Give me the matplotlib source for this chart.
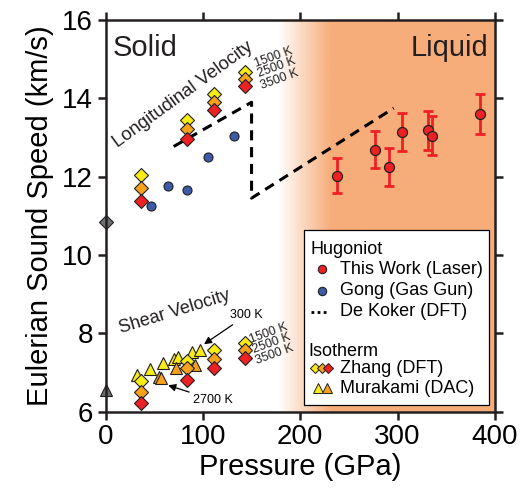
import matplotlib.pyplot as plt
import numpy as np
from matplotlib.colors import LinearSegmentedColormap
from matplotlib.patches import Rectangle

plt.rcParams['font.family'] = ['Liberation Sans', 'DejaVu Sans']

# Hugoniot: laser-driven shock (this work)
laser_p = [237.5, 277.0, 290.7, 304.4, 330.7, 335.8, 384.9]
laser_v = [12.02, 12.69, 12.24, 13.14, 13.18, 13.05, 13.60]
laser_err = [0.45, 0.48, 0.48, 0.49, 0.50, 0.50, 0.51]

# Hugoniot: gas gun (Gong)
gong_p = [46.6, 64.0, 83.3, 104.9, 131.6]
gong_v = [11.24, 11.75, 11.66, 12.49, 13.04]

# Hugoniot: De Koker DFT
dekoker_p = [70.0, 150.0, 150.0, 296.0]
dekoker_v = [12.77, 13.90, 11.45, 13.75]

# Isotherms: Zhang DFT, longitudinal and shear
zhang_p = [36.0, 84.0, 111.0, 143.0]
zhang_vp_1500 = [12.03, 13.44, 14.10, 14.67]
zhang_vp_2500 = [11.71, 13.21, 13.91, 14.50]
zhang_vp_3500 = [11.38, 12.97, 13.69, 14.31]
zhang_vs_1500 = [6.79, 7.30, 7.56, 7.75]
zhang_vs_2500 = [6.50, 7.11, 7.35, 7.58]
zhang_vs_3500 = [6.23, 6.81, 7.11, 7.37]

# Isotherms: Murakami DAC shear velocity
mura_p_300 = [32.6, 45.2, 59.3, 70.2, 74.3, 89.2, 96.7]
mura_v_300 = [6.94, 7.09, 7.24, 7.33, 7.39, 7.52, 7.58]
mura_p_2700 = [54.8, 57.3, 72.7, 91.8]
mura_v_2700 = [6.88, 6.85, 7.11, 7.20]

# ambient pressure values
ambient_vp = 10.85
ambient_vs = 6.55

temp_labels = ['1500 K', '2500 K', '3500 K']
vp_label_pos = [(172.5, 15.04), (175.8, 14.79), (178.5, 14.49)]
vs_label_pos = [(167.5, 7.99), (170.8, 7.74), (173.5, 7.45)]

xticks = [0, 100, 200, 300, 400]
yticks = [6, 8, 10, 12, 14, 16]

YELLOW = '#f7ec13'
ORANGE = '#f7a21b'
RED = '#ed2024'
BLUE = '#3b5ba8'
GRAY = '#6d6e71'
LIQUID = '#f7ad7a'
INK = '#231f20'

fig = plt.figure(figsize=(5.21, 4.92), dpi=100)
ax = fig.add_axes([0.2025, 0.1636, 0.7476, 0.7957])

# liquid region, fading in from white
melt_start, melt_full = 177, 231
xs = np.linspace(melt_start, 400, 600)
shade = np.clip((xs - melt_start) / (melt_full - melt_start), 0, 1)[None, :]
cmap = LinearSegmentedColormap.from_list('melt', ['white', LIQUID])
ax.imshow(shade, cmap=cmap, vmin=0, vmax=1, extent=(melt_start, 400, 6, 16),
          aspect='auto', zorder=0, interpolation='bilinear')

ax.plot(dekoker_p, dekoker_v, color='k', lw=2.2, ls=(0, (3.3, 2.2)), zorder=2)

ax.plot(gong_p, gong_v, 'o', ms=6.5, mfc=BLUE, mec=INK, mew=0.8, zorder=3)

ax.errorbar(laser_p, laser_v, yerr=laser_err, fmt='none', ecolor=RED,
            elinewidth=2, capsize=3.5, capthick=2, zorder=3)
ax.plot(laser_p, laser_v, 'o', ms=7.2, mfc=RED, mec=INK, mew=0.9, zorder=4)

# Murakami triangles under the Zhang diamonds
ms_tri = 8.3
ax.plot(mura_p_300, mura_v_300, '^', ms=ms_tri, mfc=YELLOW, mec=INK, mew=0.8, zorder=3)
ax.plot(mura_p_2700, mura_v_2700, '^', ms=ms_tri, mfc=ORANGE, mec=INK, mew=0.8, zorder=3)

ms_dia = 7
for vp, vs, c in [(zhang_vp_1500, zhang_vs_1500, YELLOW),
                  (zhang_vp_2500, zhang_vs_2500, ORANGE),
                  (zhang_vp_3500, zhang_vs_3500, RED)]:
    ax.plot(zhang_p, vp, 'D', ms=ms_dia, mfc=c, mec=INK, mew=0.8, zorder=4)
    ax.plot(zhang_p, vs, 'D', ms=ms_dia, mfc=c, mec=INK, mew=0.8, zorder=4)

ax.plot([0], [ambient_vp], 'D', ms=ms_dia, mfc=GRAY, mec=INK, mew=0.8,
        clip_on=False, zorder=6)
ax.plot([0], [ambient_vs], '^', ms=ms_tri, mfc=GRAY, mec=INK, mew=0.8,
        clip_on=False, zorder=6)

# labels on the plot
ax.text(0.018, 0.965, 'Solid', transform=ax.transAxes, fontsize=21,
        ha='left', va='top', color=INK)
ax.text(0.982, 0.965, 'Liquid', transform=ax.transAxes, fontsize=21,
        ha='right', va='top', color=INK)
ax.text(80, 14.10, 'Longitudinal Velocity', fontsize=13.3, rotation=36,
        ha='center', va='center', rotation_mode='anchor', color=INK)
ax.text(71, 8.53, 'Shear Velocity', fontsize=13, rotation=17,
        ha='center', va='center', rotation_mode='anchor', color=INK)

for (x, y), t in zip(vp_label_pos, temp_labels):
    ax.text(x, y, t, fontsize=9, rotation=20,
            ha='center', va='center', rotation_mode='anchor', color=INK)
for (x, y), t in zip(vs_label_pos, temp_labels):
    ax.text(x, y, t, fontsize=9, rotation=20,
            ha='center', va='center', rotation_mode='anchor', color=INK)

arrow = dict(arrowstyle='-|>', color='k', lw=0.9, mutation_scale=11,
             shrinkA=1, shrinkB=1)
ax.annotate('300 K', xy=(100, 7.70), xytext=(145, 8.46), fontsize=9,
            ha='center', va='center', arrowprops=arrow)
ax.annotate('2700 K', xy=(63, 6.68), xytext=(110.5, 6.30), fontsize=9,
            ha='center', va='center', arrowprops=arrow)

# legend box
tr = ax.transAxes
ax.add_patch(Rectangle((0.5096, 0.0166), 0.475, 0.447, transform=tr,
                       facecolor='white', edgecolor='k', lw=0.9, zorder=7))
fs = 13
ax.text(0.526, 0.415, 'Hugoniot', transform=tr, fontsize=fs, va='center', zorder=8)
ax.plot([0.555], [0.364], 'o', transform=tr, ms=6, mfc=RED, mec=INK, mew=0.8, zorder=8)
ax.text(0.603, 0.364, 'This Work (Laser)', transform=tr, fontsize=fs, va='center', zorder=8)
ax.plot([0.555], [0.309], 'o', transform=tr, ms=6, mfc=BLUE, mec=INK, mew=0.8, zorder=8)
ax.text(0.603, 0.309, 'Gong (Gas Gun)', transform=tr, fontsize=fs, va='center', zorder=8)
ax.plot([0.527, 0.575], [0.255, 0.255], transform=tr, color='k', lw=2,
        ls=(0, (1, 1.2)), zorder=8)
ax.text(0.603, 0.255, 'De Koker (DFT)', transform=tr, fontsize=fs, va='center', zorder=8)
ax.text(0.522, 0.153, 'Isotherm', transform=tr, fontsize=fs, va='center', zorder=8)
for x, c in [(0.538, YELLOW), (0.555, ORANGE), (0.572, RED)]:
    ax.plot([x], [0.110], 'D', transform=tr, ms=5.4, mfc=c, mec=INK, mew=0.7, zorder=8)
ax.text(0.603, 0.110, 'Zhang (DFT)', transform=tr, fontsize=fs, va='center', zorder=8)
for x, c in [(0.546, YELLOW), (0.568, ORANGE)]:
    ax.plot([x], [0.059], '^', transform=tr, ms=7, mfc=c, mec=INK, mew=0.7, zorder=8)
ax.text(0.603, 0.059, 'Murakami (DAC)', transform=tr, fontsize=fs, va='center', zorder=8)

ax.set_xlim(0, 400)
ax.set_ylim(6, 16)
ax.set_xticks(xticks)
ax.set_yticks(yticks)
ax.set_xlabel('Pressure (GPa)', fontsize=21, labelpad=2)
ax.set_ylabel('Eulerian Sound Speed (km/s)', fontsize=21, labelpad=6)
ax.tick_params(direction='out', length=6, width=1.8, top=True, right=True,
               labelsize=20, pad=3, color=INK)
for s in ax.spines.values():
    s.set_linewidth(1.8)
    s.set_color(INK)
    s.set_zorder(9)

fig.savefig('out.png', dpi=100)
